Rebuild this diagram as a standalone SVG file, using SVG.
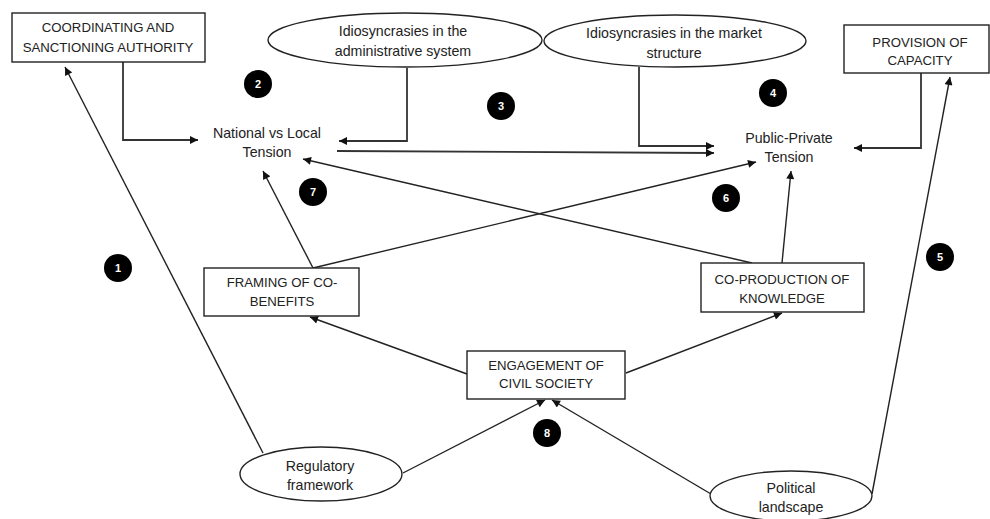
<svg xmlns="http://www.w3.org/2000/svg" width="990" height="519" viewBox="0 0 990 519">
<defs>
<marker id="ah" viewBox="0 0 10 10" refX="10" refY="5" markerWidth="9" markerHeight="8" markerUnits="userSpaceOnUse" orient="auto">
<path d="M0,0 L10,5 L0,10 z" fill="#111"/>
</marker>
</defs>
<style>
text{font-family:"Liberation Sans",Arial,sans-serif;font-size:14.2px;fill:#222;text-anchor:middle}
text.u{font-size:13.2px}
.box{fill:#fff;stroke:#222;stroke-width:1.4}
.ell{fill:#fff;stroke:#222;stroke-width:1.4}
.c{fill:none;stroke:#222;stroke-width:1.4}
.h{fill:none;stroke:#333;stroke-width:1.8}
.b circle{fill:#000}
.b text{fill:#fff;font-size:11px;font-weight:bold}
</style>
<rect width="990" height="519" fill="#fff"/>
<g id="connectors">
<polyline class="h" points="123,62 123,140 198,140" marker-end="url(#ah)"/>
<polyline class="h" points="407,68 407,141 339,141" marker-end="url(#ah)"/>
<polyline class="h" points="639,67 639,146 714,146" marker-end="url(#ah)"/>
<line class="h" x1="337" y1="151" x2="714" y2="153" marker-end="url(#ah)"/>
<polyline class="h" points="921,73 921,148 854,148" marker-end="url(#ah)"/>
<line class="c" x1="263" y1="453" x2="65" y2="67" marker-end="url(#ah)"/>
<line class="c" x1="872" y1="494" x2="950" y2="77" marker-end="url(#ah)"/>
<line class="c" x1="403" y1="473" x2="545" y2="400" marker-end="url(#ah)"/>
<line class="c" x1="711" y1="494" x2="552" y2="400" marker-end="url(#ah)"/>
<line class="c" x1="467" y1="374" x2="310" y2="317" marker-end="url(#ah)"/>
<line class="c" x1="626" y1="373" x2="782" y2="313" marker-end="url(#ah)"/>
<line class="c" x1="313" y1="268" x2="263" y2="171" marker-end="url(#ah)"/>
<line class="c" x1="313" y1="268" x2="756" y2="162" marker-end="url(#ah)"/>
<line class="c" x1="752" y1="263" x2="303" y2="159" marker-end="url(#ah)"/>
<line class="c" x1="782" y1="263" x2="791" y2="171" marker-end="url(#ah)"/>
</g>
<g id="coordinating">
<rect class="box" x="12" y="13" width="193" height="49"/>
<text class="u" x="108" y="32">COORDINATING AND</text>
<text class="u" x="108" y="52">SANCTIONING AUTHORITY</text>
</g>
<g id="admin">
<ellipse class="ell" cx="405" cy="40" rx="137" ry="27"/>
<text x="403" y="36">Idiosyncrasies in the</text>
<text x="403" y="56">administrative system</text>
</g>
<g id="market">
<ellipse class="ell" cx="675" cy="41" rx="131" ry="26"/>
<text x="674" y="38">Idiosyncrasies in the market</text>
<text x="674" y="58">structure</text>
</g>
<g id="provision">
<rect class="box" x="844" y="25" width="145" height="48"/>
<text class="u" x="920" y="47">PROVISION OF</text>
<text class="u" x="920" y="65">CAPACITY</text>
</g>
<g id="national">
<text x="267" y="138">National vs Local</text>
<text x="267" y="157">Tension</text>
</g>
<g id="publicprivate">
<text x="789" y="143">Public-Private</text>
<text x="789" y="162">Tension</text>
</g>
<g id="framing">
<rect class="box" x="204" y="268" width="155" height="48"/>
<text class="u" x="282" y="287">FRAMING OF CO-</text>
<text class="u" x="282" y="306">BENEFITS</text>
</g>
<g id="coproduction">
<rect class="box" x="701" y="263" width="163" height="49"/>
<text class="u" x="782" y="284">CO-PRODUCTION OF</text>
<text class="u" x="782" y="303">KNOWLEDGE</text>
</g>
<g id="engagement">
<rect class="box" x="467" y="351" width="158" height="48"/>
<text class="u" x="546" y="370">ENGAGEMENT OF</text>
<text class="u" x="546" y="388">CIVIL SOCIETY</text>
</g>
<g id="regulatory">
<ellipse class="ell" cx="321" cy="474" rx="81" ry="27"/>
<text x="320" y="471">Regulatory</text>
<text x="320" y="490">framework</text>
</g>
<g id="political">
<ellipse class="ell" cx="791" cy="496" rx="81" ry="25"/>
<text x="791" y="493">Political</text>
<text x="791" y="512">landscape</text>
</g>
<g id="badges" class="b">
<g id="b1"><circle cx="118" cy="268" r="14"/><text x="118" y="272">1</text></g>
<g id="b2"><circle cx="258" cy="84" r="14"/><text x="258" y="88">2</text></g>
<g id="b3"><circle cx="501" cy="106" r="14"/><text x="501" y="110">3</text></g>
<g id="b4"><circle cx="773" cy="93" r="14"/><text x="773" y="97">4</text></g>
<g id="b5"><circle cx="940" cy="257" r="14"/><text x="940" y="261">5</text></g>
<g id="b6"><circle cx="726" cy="198" r="14"/><text x="726" y="202">6</text></g>
<g id="b7"><circle cx="313" cy="192" r="14"/><text x="313" y="196">7</text></g>
<g id="b8"><circle cx="547" cy="433" r="14"/><text x="547" y="437">8</text></g>
</g>
</svg>
